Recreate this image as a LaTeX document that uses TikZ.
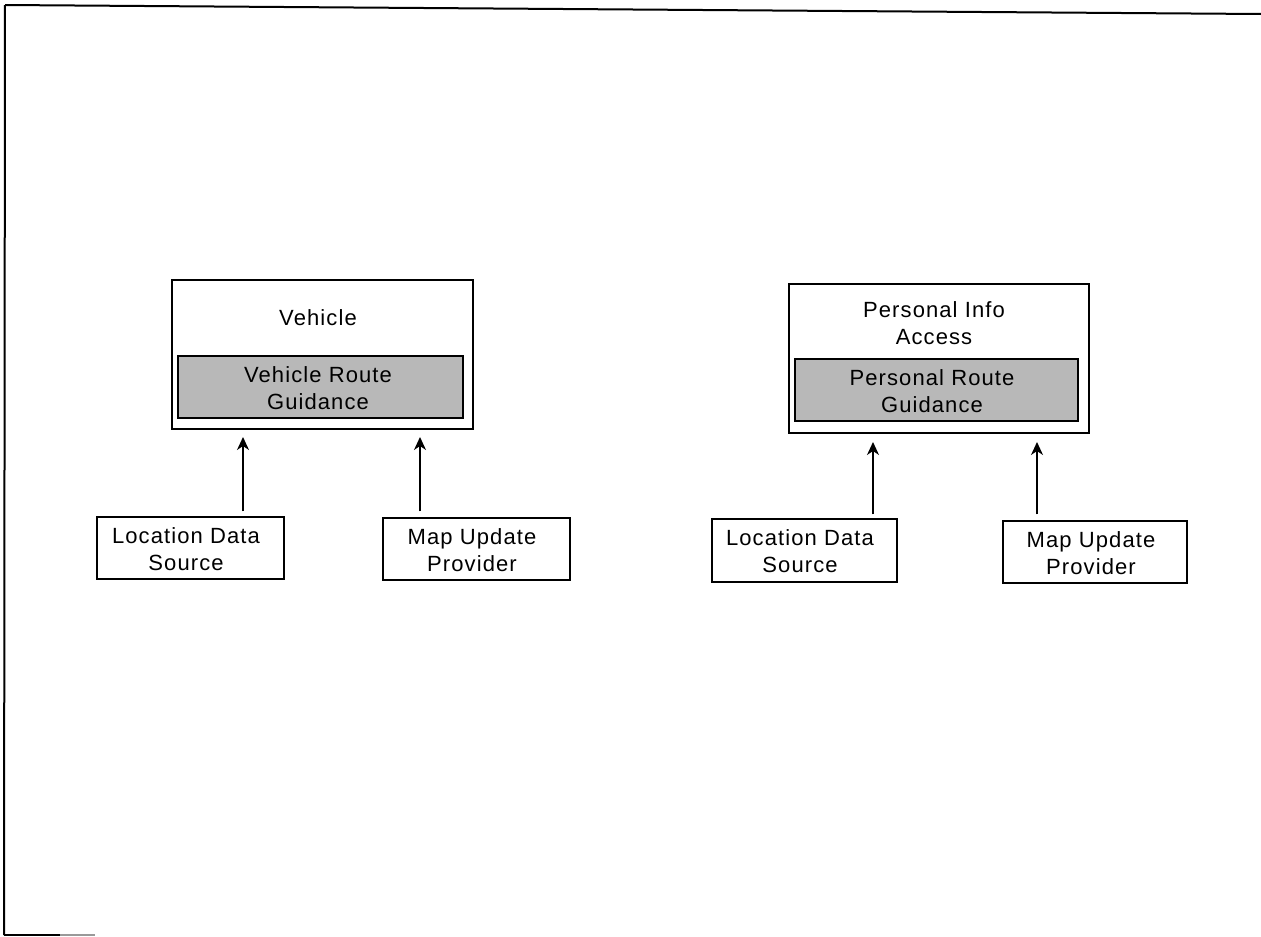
\documentclass[tikz,border=0pt]{standalone}
\usepackage{fontspec}
\setmainfont[LetterSpace=5]{Liberation Sans}
\usetikzlibrary{arrows.meta}
\begin{document}
\begin{tikzpicture}[x=1pt,y=-1pt,
  box/.style={draw=black, line width=1.1pt, inner sep=0pt, fill=white},
  shadebox/.style={draw=black, line width=1.1pt, fill=black!28, inner sep=0pt},
  lbl/.style={font=\fontsize{22}{27}\selectfont, align=center, inner sep=0pt},
  arr/.style={line width=1.3pt, -{Stealth[length=13pt,width=12pt,inset=4pt]}},
  frameline/.style={line width=2pt, draw=black}]
\useasboundingbox (0,0) rectangle (1261,937);
\fill[white] (0,0) rectangle (1261,937);
% page frame
\draw[frameline] (5,5) -- (1261,14);
\draw[frameline] (5,5) -- (4,935);
\draw[frameline] (4,935) -- (60,935);
\draw[line width=1.5pt, black!40] (60,935) -- (95,935);

% ---------- left diagram ----------
\node[box, minimum width=301pt, minimum height=149pt] (veh) at (322.5,354.5) {};
\node[lbl] (vehlbl) at (318,318) {Vehicle};
\node[shadebox, minimum width=285pt, minimum height=62pt] (vrg) at (320.5,387) {};
\node[lbl] (vrglbl) at (318,388) {Vehicle Route\\Guidance};

\node[box, minimum width=187pt, minimum height=62pt] (loc1) at (190.5,548) {};
\node[lbl] (loc1lbl) at (186,549) {Location Data\\Source};
\node[box, minimum width=187pt, minimum height=62pt] (map1) at (476.5,549) {};
\node[lbl] (map1lbl) at (472,550) {Map Update\\Provider};

\coordinate (t1) at (243,437);
\coordinate (t2) at (420,437);
\draw[arr, shorten <=5pt] (loc1.north -| t1) -- (t1);
\draw[arr, shorten <=6pt] (map1.north -| t2) -- (t2);

% ---------- right diagram ----------
\node[box, minimum width=300pt, minimum height=149pt] (pia) at (939,358.5) {};
\node[lbl] (pialbl) at (934,323) {Personal Info\\Access};
\node[shadebox, minimum width=283pt, minimum height=62pt] (prg) at (936.5,390) {};
\node[lbl] (prglbl) at (932,391) {Personal Route\\Guidance};

\node[box, minimum width=185pt, minimum height=63pt] (loc2) at (804.5,550.5) {};
\node[lbl] (loc2lbl) at (800,551) {Location Data\\Source};
\node[box, minimum width=184pt, minimum height=62pt] (map2) at (1095,552) {};
\node[lbl] (map2lbl) at (1091,553) {Map Update\\Provider};

\coordinate (t3) at (873,442);
\coordinate (t4) at (1037,442);
\draw[arr, shorten <=4pt] (loc2.north -| t3) -- (t3);
\draw[arr, shorten <=6pt] (map2.north -| t4) -- (t4);
\end{tikzpicture}
\end{document}
